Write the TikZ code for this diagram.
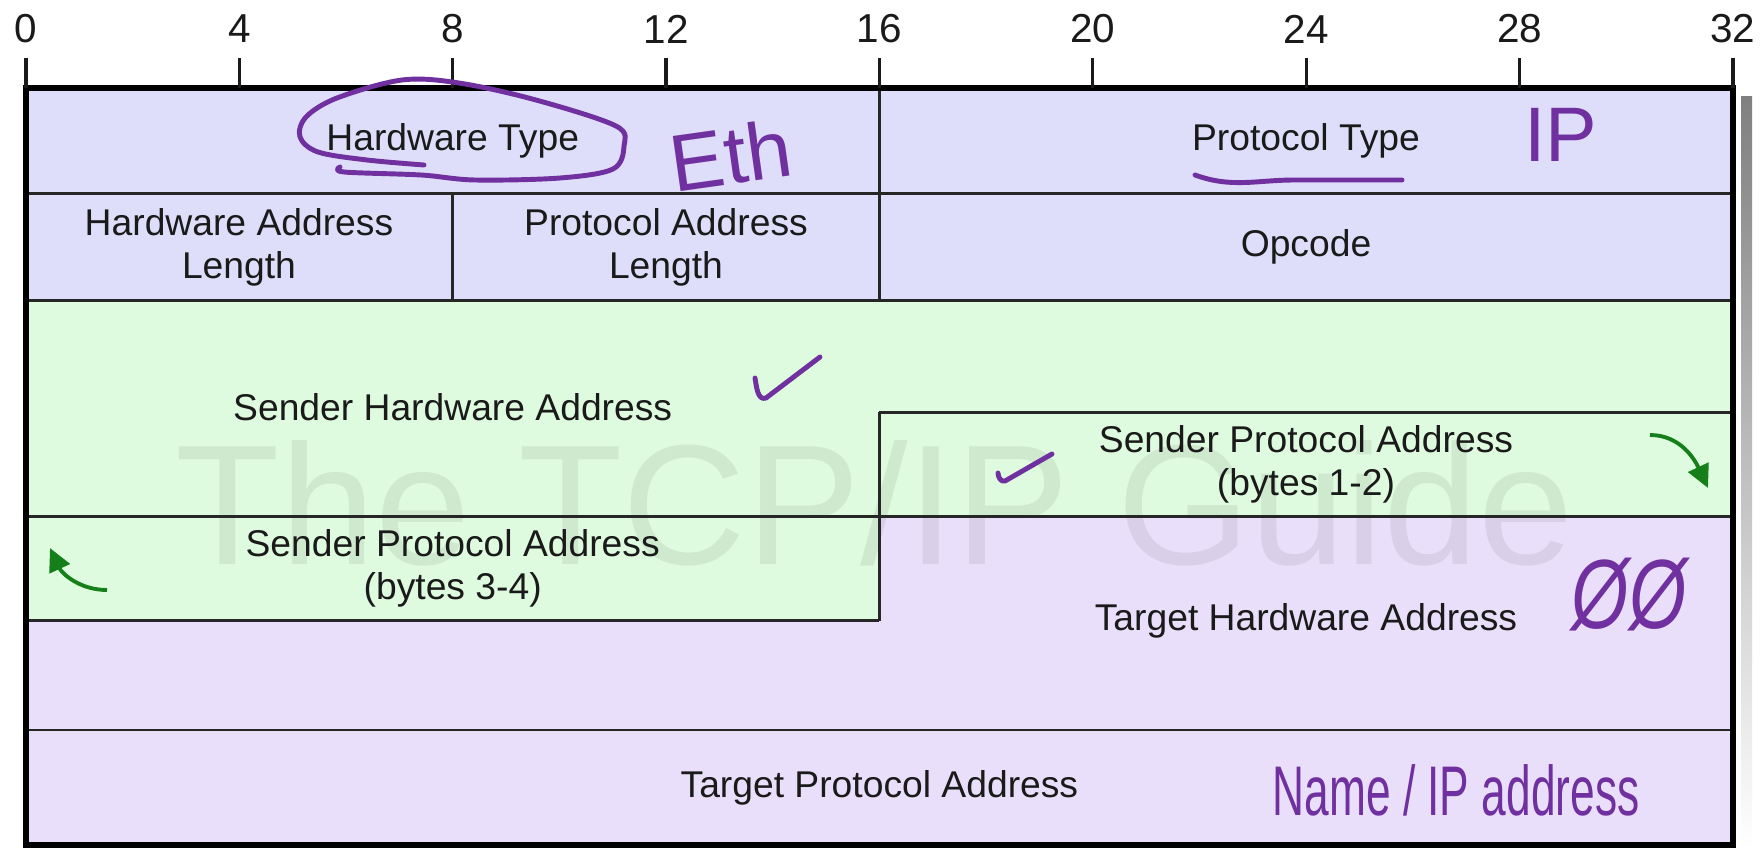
\documentclass[tikz,border=0pt]{standalone}
\usepackage{fontspec}
\setmainfont{Liberation Sans}
\usepackage{tikz}
\usetikzlibrary{arrows.meta,positioning}
\definecolor{ink}{HTML}{1A1A1A}
\definecolor{rule}{HTML}{262626}
\definecolor{hdrbg}{HTML}{DEDEFA}
\definecolor{sndbg}{HTML}{DFFBDF}
\definecolor{tgtbg}{HTML}{EADFFB}
\definecolor{shade}{HTML}{D6D6B8}
\definecolor{flowgreen}{HTML}{15801A}
\definecolor{penpurple}{HTML}{7030A0}
\tikzset{
  field/.style={font=\fontsize{10.6}{12.2}\selectfont,text=ink,align=center,inner sep=1pt},
  bitnum/.style={font=\fontsize{11.5}{13}\selectfont,text=ink,inner sep=0pt},
  tick/.style={draw=ink,line width=0.95pt},
  frame/.style={draw=black,line width=1.6pt},
  divider/.style={draw=rule,line width=0.75pt},
  flowarr/.style={-{Triangle[length=2.3mm,width=2.2mm]},line width=1.1pt,draw=flowgreen},
  pen/.style={draw=penpurple,line width=1.4pt,line cap=round,line join=round},
  scrawl/.style={text=penpurple,inner sep=0pt}
}

\begin{document}
\begin{tikzpicture}[x=1cm,y=1cm]
    \fill[white,use as bounding box] (0,0) rectangle (17.63,8.48);

    % drop shadow and field colours
    \fill[shade] (17.41,0) rectangle (17.52,7.51);
    \fill[hdrbg] (0.26,5.473) rectangle (17.33,7.60);
    \fill[sndbg] (0.26,5.473) -- (17.33,5.473) -- (17.33,3.313) -- (8.794,3.313)
      -- (8.794,2.275) -- (0.26,2.275) -- cycle;
    \fill[tgtbg] (0.26,2.275) -- (8.794,2.275) -- (8.794,3.313) -- (17.33,3.313)
      -- (17.33,0.03) -- (0.26,0.03) -- cycle;

    \node[anchor=base west,inner sep=0pt,text=black,opacity=0.07,
          font=\fontsize{48.7}{50}\selectfont] (mark) at (1.75,2.83)
      {The TCP/IP Guide};

    % field borders
    \draw[divider] (0.26,6.547) -- (17.33,6.547);
    \draw[divider] (0.26,5.473) -- (17.33,5.473);
    \draw[divider] (8.794,4.357) -- (17.33,4.357);
    \draw[divider] (0.26,3.313) -- (17.33,3.313);
    \draw[divider] (0.26,2.275) -- (8.794,2.275);
    \draw[divider] (0.26,1.18) -- (17.33,1.18);
    \draw[divider] (8.794,7.60) -- (8.794,5.473);
    \draw[divider] (4.527,6.547) -- (4.527,5.473);
    \draw[divider] (8.794,4.357) -- (8.794,2.275);
    \draw[frame] (0.26,0.03) rectangle (17.33,7.60);

    % bit ruler
    \foreach \b in {0,4,...,32} {
      \draw[tick] (0.26+0.5334*\b,7.60) -- (0.26+0.5334*\b,7.90);
      \node[bitnum] (bit\b) at (0.26+0.5334*\b,8.19) {\b};
    }

    \node[field] (hwtype) at (4.527,7.07) {Hardware Type};
    \node[field] (ptype) at (13.06,7.07) {Protocol Type};
    \node[field] (hwlen) at (2.39,6.01) {Hardware Address\\Length};
    \node[field] (plen) at (6.66,6.01) {Protocol Address\\Length};
    \node[field] (opcode) at (13.06,6.01) {Opcode};
    \node[field] (sha) at (4.527,4.41) {Sender Hardware Address};
    \node[field] (spahi) at (13.06,3.835) {Sender Protocol Address\\(bytes 1-2)};
    \node[field] (spalo) at (4.527,2.794) {Sender Protocol Address\\(bytes 3-4)};
    \node[field] (tha) at (13.06,2.27) {Target Hardware Address};
    \node[field] (tpa) at (8.794,0.605) {Target Protocol Address};

    % wrap-around arrows
    \coordinate (wrapout) at (16.50,4.13);
    \coordinate (wrapend) at (17.08,3.60);
    \coordinate (wrapin) at (1.07,2.58);
    \coordinate (wrapstart) at (0.50,3.00);
    \draw[flowarr] (wrapout) to[out=0,in=115] (wrapend);
    \draw[flowarr] (wrapin) to[out=180,in=-65] (wrapstart);

    % pen notes
    \draw[pen] plot[smooth,tension=0.55] coordinates {
      (4.24,6.83) (3.67,6.88) (3.18,6.96) (3.00,7.11) (3.06,7.31) (3.37,7.50)
      (4.02,7.68) (4.59,7.65) (5.36,7.48) (6.16,7.22) (6.24,7.02) (6.13,6.79)
      (5.60,6.70) (4.75,6.68) (4.21,6.73) (3.44,6.76) (3.40,6.81)};
    \draw[pen] (11.95,6.73) to[out=-20,in=180] (12.95,6.68) -- (14.02,6.68);
    \draw[pen] (7.55,4.70) to[out=-80,in=200] (7.66,4.50) -- (8.20,4.91);
    \draw[pen] (9.98,3.75) to[out=-90,in=200] (10.05,3.67) -- (10.52,3.94);

    \node[scrawl,rotate=8,font=\fontsize{23}{25}\selectfont] (ethnote) at (7.31,6.93) {Eth};
    \node[scrawl,font=\fontsize{22}{24}\selectfont] (ipnote) at (15.61,7.13) {IP};
    \node[scrawl,xscale=0.75,font=\fontsize{28}{30}\selectfont\itshape] (zeronote) at (16.29,2.53) {ØØ};
    \node[scrawl,xscale=0.63,font=\fontsize{20}{22}\selectfont] (namenote) at (14.56,0.58)
      {Name / IP address};
  \end{tikzpicture}
\end{document}
